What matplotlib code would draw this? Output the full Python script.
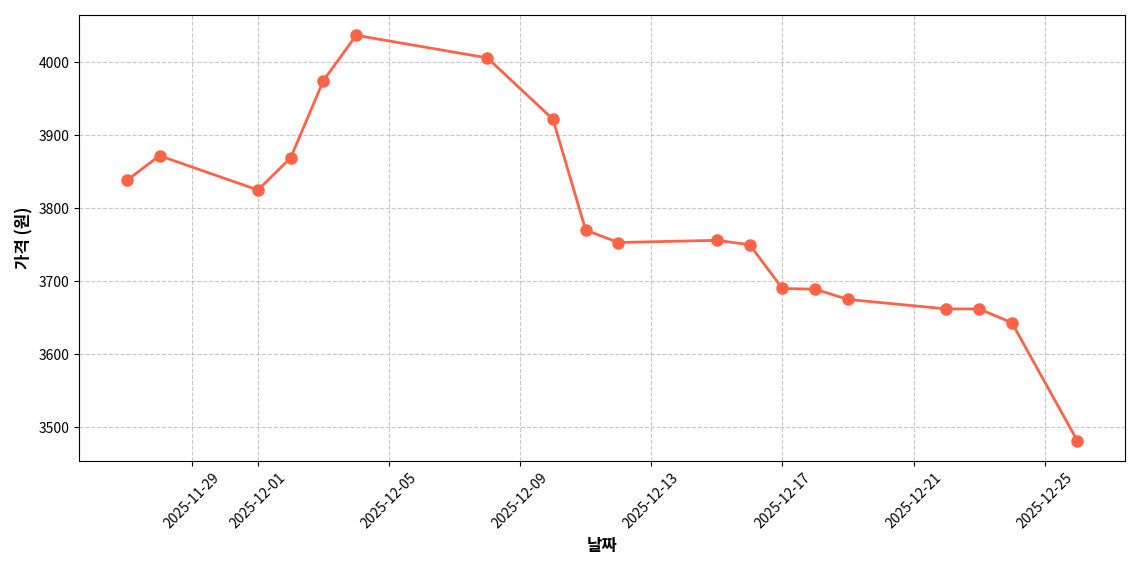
import matplotlib

matplotlib.use("Agg")
import matplotlib.pyplot as plt
import matplotlib.dates as mdates
import pandas as pd

plt.rcParams["font.family"] = ["Noto Sans CJK KR", "DejaVu Sans"]
plt.rcParams["axes.unicode_minus"] = False

dates = [
    "2025-11-27", "2025-11-28", "2025-12-01", "2025-12-02", "2025-12-03",
    "2025-12-04", "2025-12-08", "2025-12-10", "2025-12-11", "2025-12-12",
    "2025-12-15", "2025-12-16", "2025-12-17", "2025-12-18", "2025-12-19",
    "2025-12-22", "2025-12-23", "2025-12-24", "2025-12-26",
]
prices = [
    3838, 3872, 3825, 3869, 3975,
    4037, 4006, 3922, 3770, 3753,
    3756, 3750, 3690, 3689, 3675,
    3662, 3662, 3643, 3481,
]

x = pd.to_datetime(dates)

fig, ax = plt.subplots(figsize=(11.4, 5.7), dpi=100)
ax.plot(x, prices, color="#FF6347", marker="o", markersize=8, linewidth=2)
ax.set_xlabel("날짜", fontsize=12, fontweight="bold")
ax.set_ylabel("가격 (원)", fontsize=12, fontweight="bold")
ax.grid(True, linestyle="--", alpha=0.7)
ax.xaxis.set_major_locator(mdates.DayLocator(bymonthday=[1, 5, 9, 13, 17, 21, 25, 29]))
ax.xaxis.set_major_formatter(mdates.DateFormatter("%Y-%m-%d"))
plt.setp(ax.get_xticklabels(), rotation=45)
fig.tight_layout()
fig.savefig("out.png")
plt.close(fig)
